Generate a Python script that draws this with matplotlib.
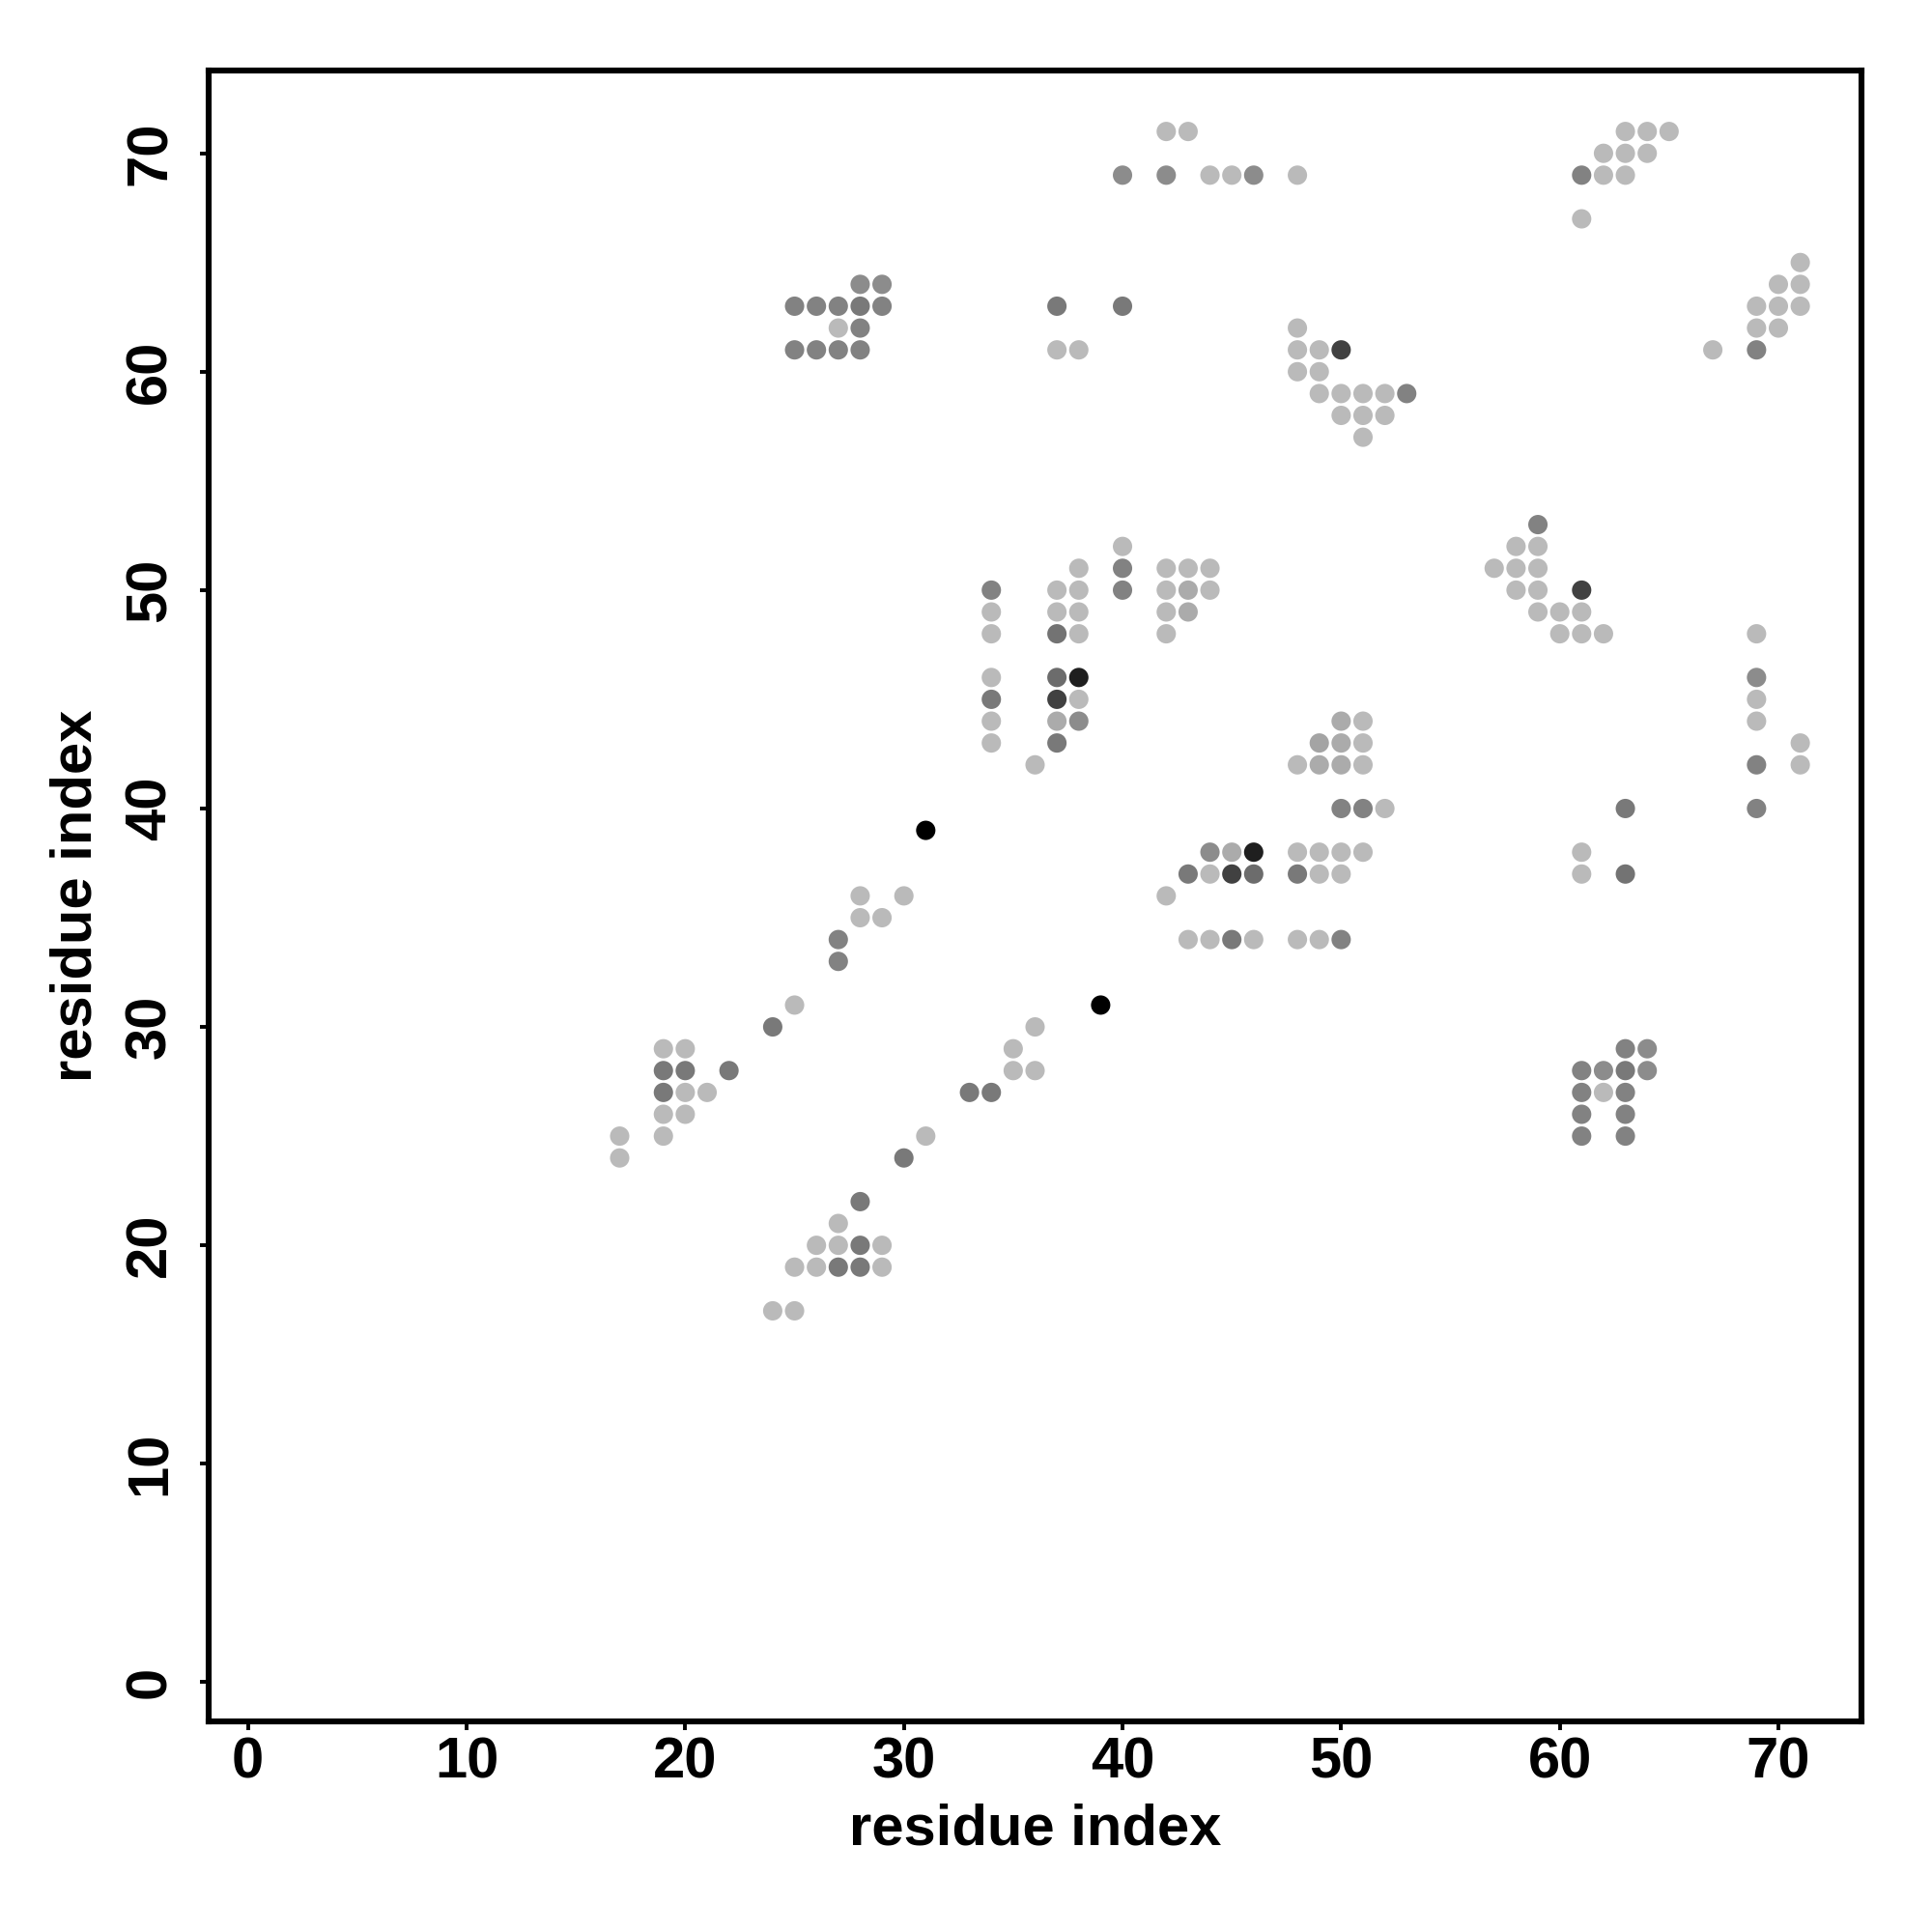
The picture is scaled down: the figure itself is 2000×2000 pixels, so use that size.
import numpy as np
import matplotlib
matplotlib.use('Agg')
import matplotlib.pyplot as plt

# contact map: residue pairs (i, j) and contact strength (0 = weak/light, 1 = strong/black)
res_i = [42, 43, 63, 64, 65,
         62, 63, 64,
         40, 42, 44, 45, 46, 48, 61, 62, 63,
         61,
         71,
         28, 29, 70, 71,
         25, 26, 27, 28, 29, 37, 40, 69, 70, 71,
         27, 28, 48, 69, 70,
         25, 26, 27, 28, 37, 38, 48, 49, 50, 67, 69,
         48, 49,
         49, 50, 51, 52, 53,
         50, 51, 52,
         51,
         59,
         40, 58, 59,
         38, 40, 42, 43, 44, 57, 58, 59,
         34, 37, 38, 40, 42, 43, 44, 58, 59, 61,
         34, 37, 38, 42, 43, 59, 60, 61,
         34, 37, 38, 42, 60, 61, 62, 69,
         34, 37, 38, 69,
         34, 37, 38, 69,
         34, 37, 38, 50, 51, 69,
         34, 37, 49, 50, 51, 71,
         36, 48, 49, 50, 51, 69, 71,
         50, 51, 52, 63, 69,
         31,
         44, 45, 46, 48, 49, 50, 51, 61,
         43, 44, 45, 46, 48, 49, 50, 61, 63,
         28, 30, 42,
         28, 29,
         27, 43, 44, 45, 46, 48, 49, 50,
         27,
         25, 39,
         24, 36,
         19, 20, 35, 63, 64,
         19, 20, 22, 35, 36, 61, 62, 63, 64,
         19, 20, 21, 33, 34, 61, 62, 63,
         19, 20, 61, 63,
         17, 19, 31, 61, 63,
         17, 30,
         28,
         27,
         26, 27, 28, 29,
         25, 26, 27, 28, 29,
         24, 25]

res_j = [71, 71, 71, 71, 71,
         70, 70, 70,
         69, 69, 69, 69, 69, 69, 69, 69, 69,
         67,
         65,
         64, 64, 64, 64,
         63, 63, 63, 63, 63, 63, 63, 63, 63, 63,
         62, 62, 62, 62, 62,
         61, 61, 61, 61, 61, 61, 61, 61, 61, 61, 61,
         60, 60,
         59, 59, 59, 59, 59,
         58, 58, 58,
         57,
         53,
         52, 52, 52,
         51, 51, 51, 51, 51, 51, 51, 51,
         50, 50, 50, 50, 50, 50, 50, 50, 50, 50,
         49, 49, 49, 49, 49, 49, 49, 49,
         48, 48, 48, 48, 48, 48, 48, 48,
         46, 46, 46, 46,
         45, 45, 45, 45,
         44, 44, 44, 44, 44, 44,
         43, 43, 43, 43, 43, 43,
         42, 42, 42, 42, 42, 42, 42,
         40, 40, 40, 40, 40,
         39,
         38, 38, 38, 38, 38, 38, 38, 38,
         37, 37, 37, 37, 37, 37, 37, 37, 37,
         36, 36, 36,
         35, 35,
         34, 34, 34, 34, 34, 34, 34, 34,
         33,
         31, 31,
         30, 30,
         29, 29, 29, 29, 29,
         28, 28, 28, 28, 28, 28, 28, 28, 28,
         27, 27, 27, 27, 27, 27, 27, 27,
         26, 26, 26, 26,
         25, 25, 25, 25, 25,
         24, 24,
         22,
         21,
         20, 20, 20, 20,
         19, 19, 19, 19, 19,
         17, 17]

strength = [0, 0, 0, 0, 0,
            0, 0, 0,
            .25, .25, 0, 0, .25, 0, .3, 0, 0,
            0,
            0,
            .25, .25, 0, 0,
            .3, .3, .3, .35, .3, .35, .35, 0, 0, 0,
            0, .3, 0, 0, 0,
            .3, .3, .3, .3, 0, 0, 0, 0, .65, 0, .3,
            0, 0,
            0, 0, 0, 0, .3,
            0, 0, 0,
            0,
            .3,
            0, 0, 0,
            0, .3, 0, 0, 0, 0, 0, 0,
            .3, 0, 0, .3, 0, .08, 0, 0, 0, .65,
            0, 0, 0, 0, .08, 0, 0, 0,
            0, .38, 0, 0, 0, 0, 0, 0,
            0, .42, .83, .25,
            .35, .65, 0, 0,
            0, .08, .25, .08, 0, 0,
            0, .35, .12, .08, 0, 0,
            0, 0, .08, .08, 0, .3, 0,
            .3, .3, 0, .35, .3,
            1,
            .25, .08, .83, 0, 0, 0, 0, 0,
            .35, 0, .65, .42, .35, 0, 0, 0, .38,
            0, 0, 0,
            0, 0,
            .3, 0, 0, .35, 0, 0, 0, .3,
            .3,
            0, 1,
            .35, 0,
            0, 0, 0, .3, .25,
            .35, .35, .35, 0, 0, .3, .25, .35, .25,
            .35, 0, 0, .35, .35, .3, 0, .3,
            0, 0, .3, .3,
            0, 0, 0, .3, .3,
            0, .35,
            .35,
            0,
            0, 0, .35, 0,
            0, 0, .35, .35, 0,
            0, 0]

ticks = [0, 10, 20, 30, 40, 50, 60, 70]

plt.rcParams['font.family'] = ['Liberation Sans', 'DejaVu Sans']
plt.rcParams['font.weight'] = 'bold'

fig = plt.figure(figsize=(10, 10), dpi=200)
ax = fig.add_axes([0.108, 0.109, 0.8555, 0.8546])

# light grey for weak contacts, black for the strongest
ax.scatter(res_i, res_j, c=strength, cmap='gray_r', vmin=-0.37, vmax=1.0,
           s=52, linewidths=0)

ax.set_xlim(-1.8, 73.8)
ax.set_ylim(-1.8, 73.8)
ax.set_xticks(ticks)
ax.set_yticks(ticks)
ax.tick_params(axis='both', direction='out', length=3.2, width=1.4, labelsize=21.5)
ax.tick_params(axis='x', pad=2.5)
ax.tick_params(axis='y', pad=8.5)
for lab in ax.get_yticklabels():
    lab.set_rotation(90)
    lab.set_va('center')

for sp in ax.spines.values():
    sp.set_linewidth(2.2)

ax.set_xlabel('residue index', fontsize=21.5, fontweight='bold', labelpad=5)
ax.set_ylabel('residue index', fontsize=21.5, fontweight='bold', labelpad=8)

fig.savefig('out.png', dpi=200, facecolor='white')
